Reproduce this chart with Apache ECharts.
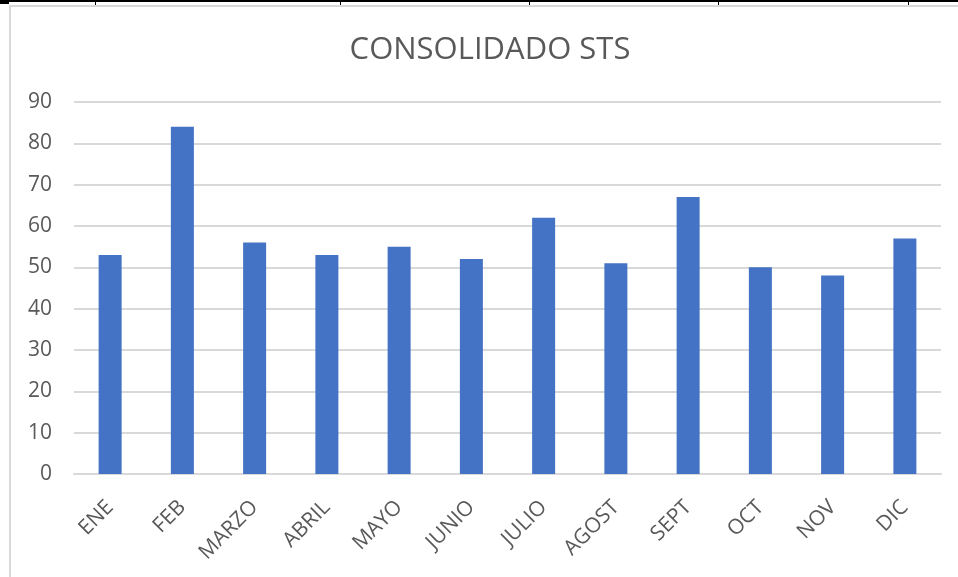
<!DOCTYPE html>
<html>
<head>
<meta charset="utf-8">
<script src="https://cdn.jsdelivr.net/npm/echarts@6/dist/echarts.min.js"></script>
<style>
  html, body { margin: 0; padding: 0; background: #fff; }
  #chart { width: 958px; height: 577px; }
</style>
</head>
<body>
<div id="chart"></div>
<script>
// Monthly totals
const months = ['ENE', 'FEB', 'MARZO', 'ABRIL', 'MAYO', 'JUNIO', 'JULIO', 'AGOST', 'SEPT', 'OCT', 'NOV', 'DIC'];
const totals = [53, 84, 56, 53, 55, 52, 62, 51, 67, 50, 48, 57];
const yTicks = { min: 0, max: 90, step: 10 };

const textColor = '#595959';
const gridColor = '#d9d9d9';
const fontFamily = '"Open Sans", "Noto Sans", sans-serif';

// Spreadsheet cell borders around the chart frame
const tableTicks = [95, 340, 529, 718, 908];
const frame = [
  { type: 'rect', shape: { x: 0, y: 0, width: 958, height: 2 }, style: { fill: '#000' } },
  { type: 'rect', shape: { x: 0, y: 0, width: 9, height: 4 }, style: { fill: '#000' } },
  { type: 'rect', shape: { x: 9, y: 5, width: 949, height: 2 }, style: { fill: '#d9d9d9' } },
  { type: 'rect', shape: { x: 9, y: 5, width: 2, height: 572 }, style: { fill: '#d9d9d9' } },
  {
    type: 'text',
    x: 490,
    y: 35,
    style: {
      text: 'CONSOLIDADO STS',
      fill: textColor,
      font: '31px ' + fontFamily,
      textAlign: 'center',
      textVerticalAlign: 'top'
    }
  }
];
tableTicks.forEach(x => {
  frame.push({ type: 'rect', shape: { x: x, y: 0, width: 1, height: 5 }, style: { fill: '#000' } });
});

const chart = echarts.init(document.getElementById('chart'), null, { renderer: 'canvas' });
chart.setOption({
  animation: false,
  backgroundColor: '#fff',
  graphic: frame,
  grid: { left: 74, right: 17, top: 102, bottom: 103, containLabel: false },
  xAxis: {
    type: 'category',
    data: months,
    axisLine: { lineStyle: { color: gridColor, width: 2 } },
    axisTick: { show: false },
    axisLabel: {
      rotate: 45,
      color: textColor,
      fontSize: 21,
      fontFamily: fontFamily,
      margin: 30
    }
  },
  yAxis: {
    type: 'value',
    min: yTicks.min,
    max: yTicks.max,
    interval: yTicks.step,
    axisLine: { show: false },
    axisTick: { show: false },
    splitLine: { lineStyle: { color: gridColor, width: 2 } },
    axisLabel: { color: textColor, fontSize: 21, fontFamily: fontFamily, margin: 22 }
  },
  series: [{
    type: 'bar',
    data: totals,
    barWidth: 23,
    itemStyle: { color: '#4472c4' }
  }]
});
</script>
</body>
</html>
